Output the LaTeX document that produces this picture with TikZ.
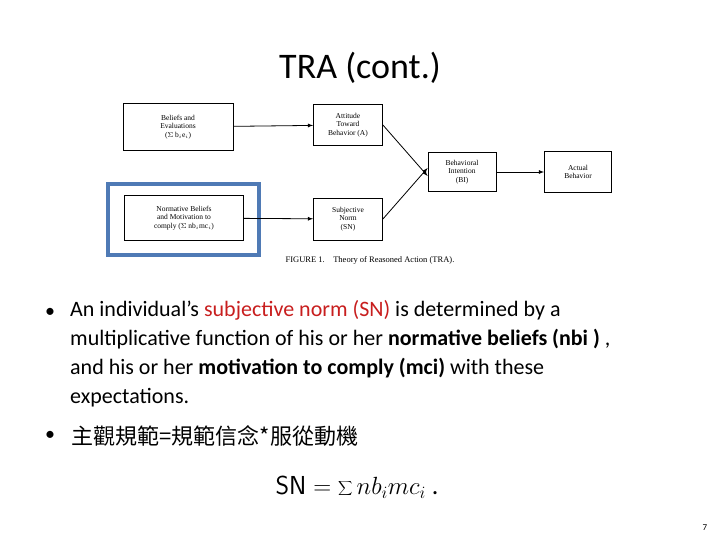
\documentclass[tikz,border=0pt]{standalone}
\usepackage{fontspec}
\setmainfont{Carlito}
\newfontfamily\serif{Liberation Serif}
\newfontfamily\cjk{Noto Sans CJK SC}
\usetikzlibrary{positioning}
\definecolor{frameblue}{RGB}{79,122,181}
\definecolor{normred}{RGB}{200,30,30}
\tikzset{
    box/.style={draw, thick, align=center, font=\serif\fontsize{7.5}{8.5}\selectfont, inner sep=1pt},
    link/.style={-latex, thick},
}
\begin{document}
\begin{tikzpicture}[x=1pt, y=-1pt]
    \useasboundingbox (0,0) rectangle (720,540);

    \node (title) at (360,68) {\fontsize{36}{40}\selectfont TRA (cont.)};

    % the figure
    \node [box, minimum width=110pt, minimum height=47pt] (belief) at (178,127) {Beliefs and\\Evaluations\\($\Sigma$ b$_i$e$_i$)};
    \node [box, minimum width=69pt, minimum height=41pt] (attitude) at (348,125) {Attitude\\Toward\\Behavior (A)};
    \node [box, minimum width=68pt, minimum height=39pt] (intent) at (462,172) {Behavioral\\Intention\\(BI)};
    \node [box, minimum width=67pt, minimum height=41pt] (actual) at (578,172) {Actual\\Behavior};
    \node [box, minimum width=119pt, minimum height=45pt] (normative) at (184,218) {Normative Beliefs\\and Motivation to\\comply ($\Sigma$ nb$_i$mc$_i$)};
    \node [box, minimum width=69pt, minimum height=42pt] (subjective) at (348,219) {Subjective\\Norm\\(SN)};
    \draw [frameblue, line width=4pt] (108,184) rectangle (259,255);
    \node [font=\serif\fontsize{8.5}{9}\selectfont] (caption) at (370,260) {FIGURE 1.\quad Theory of Reasoned Action (TRA).};

    \draw [link] (belief) -- (attitude);
    \draw [link] (normative) -- (subjective);
    \draw [link] (attitude.east) -- ([yshift=-4pt]intent.west);
    \draw [link] (subjective.east) -- ([yshift=4pt]intent.west);
    \draw [link] (intent) -- (actual);

    % the bullets
    \node [font=\fontsize{22}{29}\selectfont, align=left, anchor=north west, inner sep=0pt] (point) at (70,300)
        {An individual's \textcolor{normred}{subjective norm (SN)} is determined by a\\
         multiplicative function of his or her \textbf{normative beliefs (nbi )} ,\\
         and his or her \textbf{motivation to comply (mci)} with these\\
         expectations.};
    \node [font=\fontsize{20}{24}\selectfont] (dot1) at (50,313) {\textbullet};
    \node [font=\fontsize{20}{24}\selectfont] (dot2) at (50,436) {\textbullet};
    \node [font=\cjk\fontsize{22}{24}\selectfont, anchor=west] (chinese) at (68,436) {主觀規範=規範信念*服從動機};

    \node (formula) at (357,487) {\fontsize{26}{30}\selectfont $\mathsf{SN} = \displaystyle\sum nb_i mc_i$ .};
    \node [font=\fontsize{9}{10}\selectfont] (page) at (705,528) {7};
\end{tikzpicture}
\end{document}
